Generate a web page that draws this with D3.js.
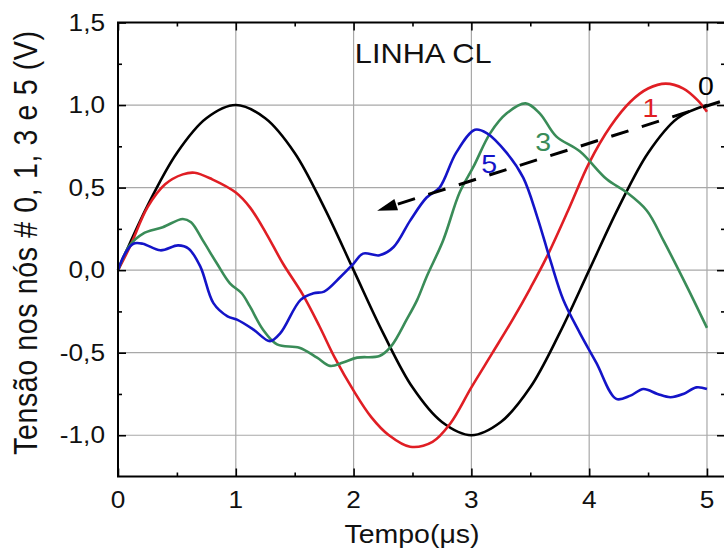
<!DOCTYPE html>
<html>
<head>
<meta charset="utf-8">
<script src="https://cdn.jsdelivr.net/npm/d3@7"></script>
<style>
body{margin:0;background:#fff;}
svg{display:block;}
</style>
</head>
<body>
<div id="canvas"></div>
<script>
// tick values
const xMajor = [0, 1, 2, 3, 4, 5];
const xMinor = [0.5, 1.5, 2.5, 3.5, 4.5];
const yMajor = [-1.0, -0.5, 0.0, 0.5, 1.0, 1.5];
const yMinor = [-0.75, -0.25, 0.25, 0.75, 1.25];
const xGrid = [1, 2, 3, 4, 5];
const yGrid = [-1.0, -0.5, 0.0, 0.5, 1.0];

// node 0 (black)  [tempo µs, tensão V]
const node0 = [[0,0],[0.25,0.39],[0.5,0.71],[0.75,0.92],[1,1.0],[1.25,0.92],[1.5,0.71],[1.75,0.38],
  [2,0],[2.25,-0.38],[2.5,-0.71],[2.75,-0.92],[3,-1.0],[3.25,-0.92],[3.5,-0.71],[3.75,-0.38],
  [4,0],[4.25,0.38],[4.5,0.71],[4.75,0.92],[5,1.0]];
// node 1 (red)
const node1 = [[0,0],[0.1,0.14],[0.25,0.38],[0.4,0.52],[0.55,0.58],[0.65,0.59],[0.8,0.55],[1,0.47],
  [1.12,0.38],[1.26,0.22],[1.4,0.04],[1.57,-0.15],[1.71,-0.34],[1.84,-0.53],[2,-0.73],[2.15,-0.89],
  [2.3,-1.0],[2.48,-1.07],[2.67,-1.04],[2.82,-0.93],[3,-0.71],[3.18,-0.5],[3.35,-0.3],[3.5,-0.11],
  [3.64,0.08],[3.82,0.36],[4,0.65],[4.18,0.87],[4.35,1.02],[4.5,1.1],[4.65,1.13],[4.8,1.1],[4.92,1.03],[5,0.96]];
// node 3 (green)
const node3 = [[0,0],[0.1,0.15],[0.21,0.22],[0.38,0.26],[0.55,0.31],[0.62,0.29],[0.72,0.18],[0.84,0.04],
  [0.95,-0.08],[1.05,-0.14],[1.12,-0.22],[1.23,-0.36],[1.35,-0.45],[1.54,-0.47],[1.69,-0.53],[1.8,-0.58],
  [1.91,-0.56],[2.03,-0.53],[2.22,-0.52],[2.32,-0.46],[2.45,-0.3],[2.54,-0.18],[2.62,-0.04],[2.76,0.18],
  [2.9,0.47],[3.02,0.63],[3.16,0.83],[3.3,0.95],[3.46,1.01],[3.58,0.95],[3.72,0.81],[3.92,0.72],
  [4.15,0.55],[4.32,0.47],[4.49,0.36],[4.63,0.18],[4.83,-0.1],[5,-0.35]];
// node 5 (blue)
const node5 = [[0,0],[0.06,0.1],[0.13,0.16],[0.21,0.16],[0.36,0.12],[0.51,0.15],[0.6,0.13],[0.7,0.02],
  [0.81,-0.2],[0.93,-0.28],[1.01,-0.3],[1.15,-0.36],[1.29,-0.43],[1.38,-0.38],[1.55,-0.18],[1.66,-0.14],
  [1.75,-0.13],[1.89,-0.04],[2,0.04],[2.08,0.1],[2.22,0.09],[2.34,0.14],[2.48,0.3],[2.62,0.44],
  [2.73,0.5],[2.87,0.71],[3.03,0.85],[3.13,0.83],[3.3,0.71],[3.44,0.56],[3.56,0.32],[3.67,0.06],
  [3.78,-0.18],[3.92,-0.38],[4.06,-0.56],[4.23,-0.78],[4.35,-0.76],[4.46,-0.72],[4.58,-0.75],
  [4.69,-0.77],[4.8,-0.75],[4.91,-0.71],[5,-0.72]];

const seriesNames = ["0", "1", "3", "5"];
// where each curve number is written [t, v]
const nameSpots = [[4.99, 1.06], [4.52, 0.93], [3.61, 0.72], [3.15, 0.59]];
// dashed arrow, tail then head [t, v]
const arrowPts = [[5.11, 1.02], [2.2, 0.36]];

const colors = ["#000000", "#e01e24", "#3a8c58", "#1414c8"];
const W = 724, H = 550;
const stretch = 1.14;
const font = "'Liberation Sans', Arial, sans-serif";

const svg = d3.select("#canvas").append("svg")
    .attr("width", W)
    .attr("height", H)
    .attr("viewBox", "0 0 " + W + " " + H);

const x = d3.scaleLinear().domain([0, 5.153]).range([118, 725]);
const y = d3.scaleLinear().domain([-1.25, 1.5]).range([476.5, 22.5]);

// grid
svg.append("g").selectAll("line").data(xGrid).enter().append("line")
    .attr("x1", d => x(d)).attr("x2", d => x(d))
    .attr("y1", y.range()[0]).attr("y2", y.range()[1])
    .attr("stroke", "#a8a8a8").attr("stroke-width", 1.2);
svg.append("g").selectAll("line").data(yGrid).enter().append("line")
    .attr("x1", x.range()[0]).attr("x2", x.range()[1])
    .attr("y1", d => y(d)).attr("y2", d => y(d))
    .attr("stroke", "#a8a8a8").attr("stroke-width", 1.2);

// curves
const line = d3.line()
    .x(d => x(d[0]))
    .y(d => y(d[1]))
    .curve(d3.curveCatmullRom.alpha(0.5));
[node0, node1, node3, node5].forEach((s, i) => {
    svg.append("path")
        .attr("d", line(s))
        .attr("fill", "none")
        .attr("stroke", colors[i])
        .attr("stroke-width", 2.6)
        .attr("stroke-linejoin", "round");
});

// axes, ticks pointing in
function drawAxis(axisFn, scale, ticks, size, pos) {
    const g = svg.append("g")
        .attr("transform", pos)
        .call(axisFn(scale).tickValues(ticks).tickSize(size).tickFormat(""));
    g.selectAll(".domain").remove();
    g.selectAll(".tick line").attr("stroke", "#000").attr("stroke-width", 1.6);
}
const plotL = x.range()[0], plotR = x.range()[1];
const plotB = y.range()[0], plotT = y.range()[1];
drawAxis(d3.axisBottom, x, xMajor, -8, "translate(0," + plotB + ")");
drawAxis(d3.axisBottom, x, xMinor, -4, "translate(0," + plotB + ")");
drawAxis(d3.axisTop, x, xMajor, -8, "translate(0," + plotT + ")");
drawAxis(d3.axisTop, x, xMinor, -4, "translate(0," + plotT + ")");
drawAxis(d3.axisLeft, y, yMajor, -8, "translate(" + plotL + ",0)");
drawAxis(d3.axisLeft, y, yMinor, -4, "translate(" + plotL + ",0)");
drawAxis(d3.axisRight, y, yMajor, -8, "translate(" + plotR + ",0)");
drawAxis(d3.axisRight, y, yMinor, -4, "translate(" + plotR + ",0)");

svg.append("rect")
    .attr("x", plotL).attr("y", plotT)
    .attr("width", plotR - plotL).attr("height", plotB - plotT)
    .attr("fill", "none").attr("stroke", "#000").attr("stroke-width", 2);

// text helper, the picture is a little wider than tall
function label(px, py, txt, size, anchor, color) {
    return svg.append("text")
        .attr("transform", "translate(" + px + "," + py + ") scale(" + stretch + ",1)")
        .attr("text-anchor", anchor)
        .attr("font-family", font)
        .attr("font-size", size + "px")
        .attr("fill", color || "#111")
        .text(txt);
}
const fmt = d => d3.format(".1f")(d).replace(".", ",").replace("−", "-");

xMajor.forEach(d => label(x(d), 508, d, 23, "middle"));
yMajor.forEach(d => label(105, y(d) + 8, fmt(d), 23, "end"));

label(412, 543, "Tempo(μs)", 25, "middle");

svg.append("text")
    .attr("transform", "translate(37,243) rotate(-90) scale(1," + stretch + ")")
    .attr("text-anchor", "middle")
    .attr("font-family", font)
    .attr("font-size", "28.5px")
    .attr("fill", "#111")
    .attr("textLength", 424)
    .text("Tensão nos nós # 0, 1, 3 e 5  (V)");

label(x(2.01), y(1.255), "LINHA CL", 27, "start");

seriesNames.forEach((n, i) => {
    label(x(nameSpots[i][0]), y(nameSpots[i][1]), n, 25, "middle", colors[i]);
});

// dashed arrow
const p0 = [x(arrowPts[0][0]), y(arrowPts[0][1])];
const p1 = [x(arrowPts[1][0]), y(arrowPts[1][1])];
const ang = Math.atan2(p1[1] - p0[1], p1[0] - p0[0]);
const headLen = 20, headW = 6;
const base = [p1[0] - headLen * Math.cos(ang), p1[1] - headLen * Math.sin(ang)];
svg.append("line")
    .attr("x1", p0[0]).attr("y1", p0[1])
    .attr("x2", base[0]).attr("y2", base[1])
    .attr("stroke", "#000").attr("stroke-width", 3)
    .attr("stroke-dasharray", "18,14");
svg.append("path")
    .attr("d", "M" + p1[0] + "," + p1[1]
        + "L" + (base[0] + headW * Math.sin(ang)) + "," + (base[1] - headW * Math.cos(ang))
        + "L" + (base[0] - headW * Math.sin(ang)) + "," + (base[1] + headW * Math.cos(ang)) + "Z")
    .attr("fill", "#000");
</script>
</body>
</html>
